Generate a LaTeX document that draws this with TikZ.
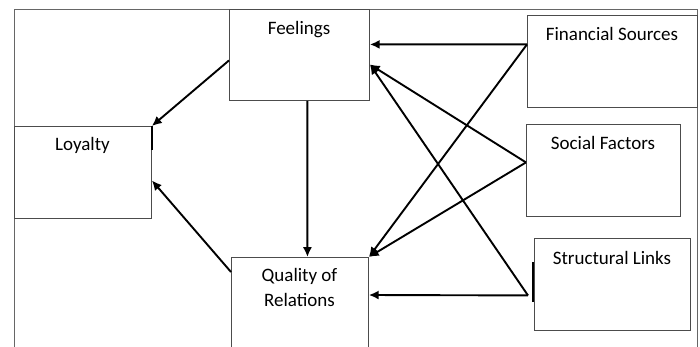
\documentclass[tikz,border=0pt]{standalone}
\usepackage{fontspec}
\setmainfont{Carlito}
\usetikzlibrary{arrows.meta}
\begin{document}
\begin{tikzpicture}[x=0.025cm,y=-0.025cm,
  box/.style={draw=black!70, line width=0.6pt, inner sep=0pt, anchor=north west},
  lbl/.style={font=\fontsize{13.5}{17.7}\selectfont, anchor=north, align=center, inner sep=0pt},
  link/.style={line width=1.35pt, -{Latex[length=7pt,width=6.5pt]}}]
\useasboundingbox (0,0) rectangle (700,347);
\clip (0,0) rectangle (700,347);
% outer frame
\draw[black!60, line width=0.6pt] (14,350) -- (14,9) -- (697,9) -- (697,350);
% boxes
\node[box, minimum width=3.5cm,   minimum height=2.275cm] (fee) at (229,9) {};
\node[box, minimum width=3.425cm, minimum height=2.3cm]   (loy) at (14,126) {};
\node[box, minimum width=3.425cm, minimum height=2.45cm]  (qua) at (231,257) {};
\node[box, minimum width=4.25cm,  minimum height=2.3cm]   (fin) at (527,15) {};
\node[box, minimum width=3.85cm,  minimum height=2.3cm]   (soc) at (526,124) {};
\node[box, minimum width=3.9cm,   minimum height=2.3cm]   (str) at (534,238) {};
% labels
\node[lbl] (feeT) at (299,21) {Feelings};
\node[lbl] (loyT) at (82.5,137) {Loyalty};
\node[lbl] (quaT) at (299.5,268) {Quality of\\Relations};
\node[lbl] (finT) at (612,27) {Financial Sources};
\node[lbl] (socT) at (603,136) {Social Factors};
\node[lbl] (strT) at (612,251) {Structural Links};
% small edge marks
\draw[line width=0.9pt] (loy.north east) -- ([yshift=-0.6cm]loy.north east);
\draw[line width=0.8pt] ([xshift=-0.025cm,yshift=0.55cm]str.west) -- ([xshift=-0.025cm,yshift=-0.45cm]str.west);
% connector start points
\coordinate (finS) at ([yshift=0.425cm]fin.west);
\coordinate (socS) at ([yshift=0.2cm]soc.west);
\coordinate (strS) at ([xshift=-0.15cm,yshift=-0.275cm]str.west);
% connectors
\draw[link] ([yshift=-0.1375cm]fee.west) -- (loy.north east);
\draw[link] ([xshift=0.2cm]fee.south) -- ([xshift=0.1875cm]qua.north);
\draw[link] ([yshift=-0.375cm]qua.north west) -- ([yshift=-0.2cm]loy.east);
\draw[link] (finS) -- ([yshift=0.2625cm]fee.east);
\draw[link] (finS) -- (qua.north east);
\draw[link] (socS) -- ([yshift=-0.2375cm]fee.east);
\draw[link] (socS) -- (qua.north east);
\draw[link] (strS) -- ([yshift=-0.2375cm]fee.east);
\draw[link] (strS) -- ([yshift=-0.95cm]qua.north east);
\end{tikzpicture}
\end{document}
